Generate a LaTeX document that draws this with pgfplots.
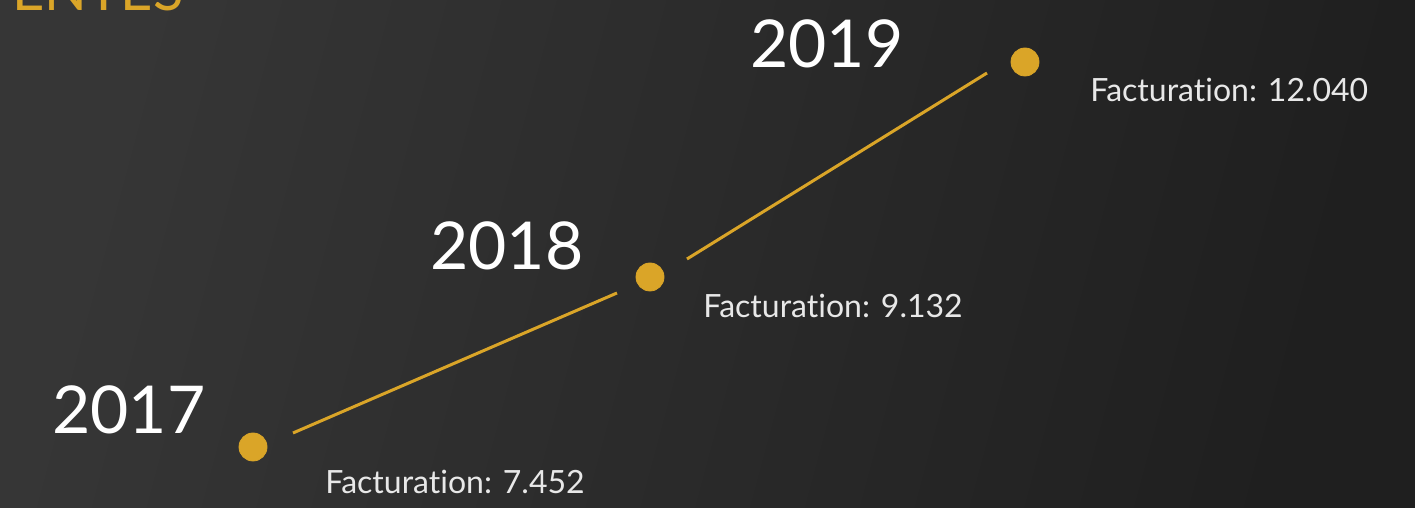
\documentclass[border=0pt]{standalone}
\usepackage{pgfplots}
\pgfplotsset{compat=1.18}
\usepackage{fontspec}
\setmainfont[Ligatures=NoCommon]{Lato}
\definecolor{gold}{HTML}{DAA528}
\definecolor{bgA}{HTML}{363636}
\definecolor{bgB}{HTML}{1F1F1F}
\definecolor{txt}{HTML}{E8E8E8}
\begin{document}
\begin{tikzpicture}[x=0.5pt,y=0.5pt]
\shade[left color=bgA, right color=bgB, shading angle=75] (0,0) rectangle (1415,508);
\begin{axis}[
  at={(0,0)}, anchor=origin,
  scale only axis, width=707.5pt, height=254pt,
  xmin=0, xmax=1415, ymin=0, ymax=508,
  axis lines=none, ticks=none, clip=false,
]
% line segments between points (with gaps)
\addplot[gold, line width=1.5pt] coordinates {(293,75) (617,215)};
\addplot[gold, line width=1.5pt] coordinates {(687,249) (987,435)};
% points: 2017, 2018, 2019
\addplot[only marks, mark=*, mark size=7pt, gold, mark options={fill=gold, draw=gold}] coordinates {(253,61) (650,231) (1025,446)};
\node[anchor=base west, font=\fontsize{33}{36}\selectfont, text=white, inner sep=0pt] at (axis cs:52,74) {2017};
\node[anchor=base west, font=\fontsize{33}{36}\selectfont, text=white, inner sep=0pt] at (axis cs:430,238) {2018};
\node[anchor=base west, font=\fontsize{33}{36}\selectfont, text=white, inner sep=0pt] at (axis cs:750,440) {2019};
\node[anchor=base west, font=\fontsize{16}{19}\selectfont, text=txt, inner sep=0pt] at (axis cs:325,14) {Facturation: 7.452};
\node[anchor=base west, font=\fontsize{16}{19}\selectfont, text=txt, inner sep=0pt] at (axis cs:703,190) {Facturation: 9.132};
\node[anchor=base west, font=\fontsize{16}{19}\selectfont, text=txt, inner sep=0pt] at (axis cs:1090,406) {Facturation: 12.040};
\node[anchor=base west, font=\fontsize{28}{31}\selectfont, text=gold, inner sep=0pt] at (axis cs:12,497) {ENTES};
\end{axis}
\pgfresetboundingbox
\useasboundingbox (0,0) rectangle (1415,508);
\end{tikzpicture}
\end{document}
